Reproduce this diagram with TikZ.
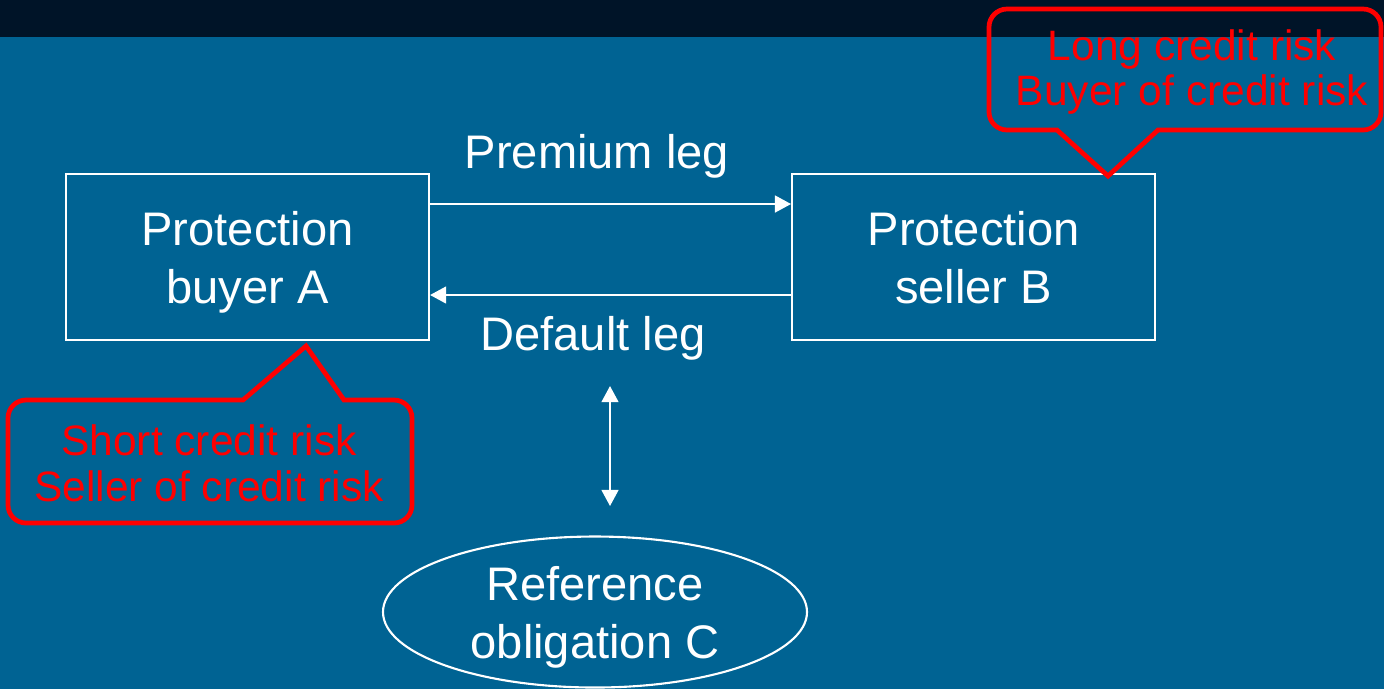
\documentclass[tikz,border=0pt]{standalone}
\usepackage{fontspec}
\setmainfont{Liberation Sans}
\usepackage{tikz}
\usetikzlibrary{arrows.meta,positioning,shapes.geometric,calc}
\definecolor{slideblue}{RGB}{0,99,147}
\definecolor{slidetop}{RGB}{0,20,40}

\begin{document}
\begin{tikzpicture}[
    party/.style={draw=white, line width=0.6pt, align=center, text=white, minimum width=3.63cm, minimum height=1.66cm, inner sep=0pt, text depth=0pt, font=\fontsize{13.4pt}{16.5pt}\selectfont},
    refob/.style={draw=white, line width=0.6pt, ellipse, align=center, text=white, minimum width=4.24cm, minimum height=1.51cm, inner sep=0pt, text depth=0pt, font=\fontsize{13.4pt}{16.5pt}\selectfont},
    leglabel/.style={text=white, inner sep=0pt, font=\fontsize{13.4pt}{16.5pt}\selectfont},
    risktext/.style={text=red, align=center, inner sep=0pt, font=\fontsize{12.1pt}{13pt}\selectfont},
    callout/.style={draw=red, line width=1.35pt},
    flow/.style={draw=white, line width=0.6pt, -{Triangle[length=4.6pt,width=4.8pt]}},
    link/.style={draw=white, line width=0.6pt, {Triangle[length=4.6pt,width=4.8pt]}-{Triangle[length=4.6pt,width=4.8pt]}}
]
\useasboundingbox (0,0) rectangle (13.84,-6.89);
\fill[slideblue] (0,0) rectangle (13.84,-6.89);
\fill[slidetop] (0,0) rectangle (13.84,-0.37);

\node[party] (buyer) at (2.475,-2.57) {Protection\\buyer A};
\node[party, right=3.61cm of buyer] (seller) {Protection\\seller B};
\node[refob] (obligation) at (5.95,-6.12) {Reference\\obligation C};
\node[leglabel] (premium) at (5.97,-1.56) {Premium leg};
\node[leglabel] (default) at (5.93,-3.38) {Default leg};
\coordinate (linktop) at (6.10,-3.86);
\coordinate (linkbot) at (6.10,-5.06);

\draw[flow] ([yshift=5.3mm]buyer.east) -- ([yshift=5.3mm]seller.west);
\draw[flow] ([yshift=-3.8mm]seller.west) -- ([yshift=-3.8mm]buyer.east);
\draw[link] (linktop) -- (linkbot);

% callouts
\node[risktext] (longrisk) at (11.92,-0.72) {Long credit risk\\Buyer of credit risk};
\draw[callout] (10.57,-1.30) -- (11.08,-1.76) -- (11.58,-1.30) -- (13.63,-1.30)
    arc[start angle=-90,end angle=0,radius=0.18] -- (13.81,-0.27)
    arc[start angle=0,end angle=90,radius=0.18] -- (10.07,-0.09)
    arc[start angle=90,end angle=180,radius=0.18] -- (9.89,-1.12)
    arc[start angle=180,end angle=270,radius=0.18] -- cycle;
\node[risktext] (shortrisk) at (2.09,-4.63) {Short credit risk\\Seller of credit risk};
\draw[callout] (2.43,-4.00) -- (3.06,-3.46) -- (3.44,-4.00) -- (3.94,-4.00)
    arc[start angle=90,end angle=0,radius=0.18] -- (4.12,-5.05)
    arc[start angle=0,end angle=-90,radius=0.18] -- (0.26,-5.23)
    arc[start angle=270,end angle=180,radius=0.18] -- (0.08,-4.18)
    arc[start angle=180,end angle=90,radius=0.18] -- cycle;
\end{tikzpicture}
\end{document}
